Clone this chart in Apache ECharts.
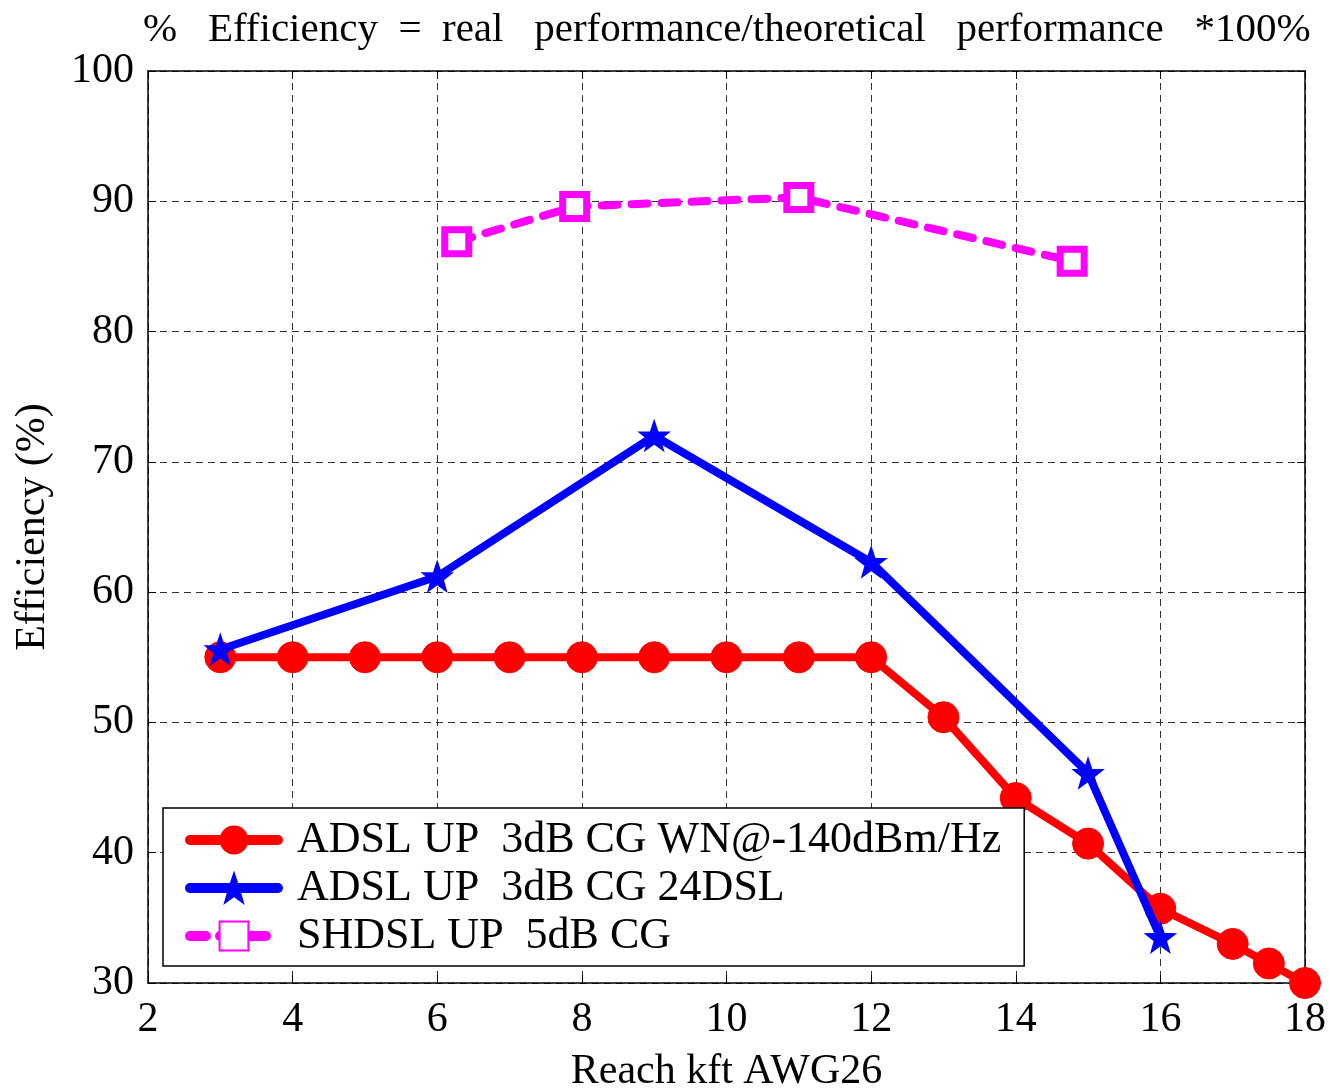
<!DOCTYPE html>
<html>
<head>
    <meta charset="utf-8">
    <title></title>
    <script src="https://cdn.jsdelivr.net/npm/echarts@6/dist/echarts.min.js"></script>
    <style>
        html, body { margin: 0; padding: 0; background: #fff; }
        #main { width: 1330px; height: 1090px; }
    </style>
</head>
<body>
    <div id="main"></div>
    <script>
    // data
    var adslWnX = [3, 4, 5, 6, 7, 8, 9, 10, 11, 12, 13, 14, 15, 16, 17, 17.5, 18];
    var adslWnY = [55, 55, 55, 55, 55, 55, 55, 55, 55, 55, 50.4, 44.2, 40.7, 35.7, 33, 31.5, 30];
    var adsl24X = [3, 6, 9, 12, 15, 16];
    var adsl24Y = [55.6, 61.2, 72, 62.3, 46.1, 33.5];
    var shdslX = [6.27, 7.9, 11, 14.78];
    var shdslY = [86.9, 89.6, 90.3, 85.4];
    var seriesNames = ["ADSL UP  3dB CG WN@-140dBm/Hz", "ADSL UP  3dB CG 24DSL", "SHDSL UP  5dB CG"];

    function pairs(xs, ys) {
        var out = [];
        for (var i = 0; i < xs.length; i++) out.push([xs[i], ys[i]]);
        return out;
    }

    var font = "'Liberation Serif', 'Times New Roman', serif";
    var star = "path://M0,-10 L2.35,-3.24 L9.51,-3.09 L3.8,1.24 L5.88,8.09 L0,4 L-5.88,8.09 L-3.8,1.24 L-9.51,-3.09 L-2.35,-3.24 Z";

    var gridLine = { show: true, lineStyle: { color: "#333", type: [7, 5], width: 1 } };
    var axisTxt = { color: "#000", fontFamily: font, fontSize: 42 };
    var nameTxt = { fontFamily: font, fontSize: 42, color: "#000" };

    var chart = echarts.init(document.getElementById("main"));
    chart.setOption({
        animation: false,
        backgroundColor: "#fff",
        title: {
            text: "%   Efficiency  =  real   performance/theoretical   performance   *100%",
            left: 138, top: 5,
            textStyle: { fontFamily: font, fontSize: 41, fontWeight: "normal", color: "#000" }
        },
        grid: { left: 148, right: 25, top: 71, bottom: 107, outerBoundsMode: "none", containLabel: false },
        legend: {
            orient: "vertical",
            left: 163, top: 808,
            padding: [10, 23, 8, 22],
            itemGap: 4,
            itemWidth: 88,
            itemHeight: 36,
            borderColor: "#000",
            borderWidth: 1.5,
            borderRadius: 0,
            backgroundColor: "#fff",
            lineStyle: { width: 10, cap: "round" },
            textStyle: { fontFamily: font, fontSize: 44, lineHeight: 42, color: "#000", padding: [0, 0, 0, 14] },
            data: seriesNames
        },
        xAxis: [{
            type: "value", min: 2, max: 18, interval: 2,
            name: "Reach kft AWG26", nameLocation: "middle", nameGap: 68,
            nameTextStyle: nameTxt,
            axisLine: { onZero: false, lineStyle: { color: "#000", width: 1.5 } },
            axisTick: { inside: true, length: 8, lineStyle: { color: "#000" } },
            axisLabel: Object.assign({ margin: 16 }, axisTxt),
            splitLine: gridLine
        }, {
            type: "value", min: 2, max: 18, interval: 2, position: "top",
            axisLine: { onZero: false, lineStyle: { color: "#000", width: 1.5 } },
            axisTick: { inside: true, length: 8, lineStyle: { color: "#000" } },
            axisLabel: { show: false }, splitLine: { show: false }
        }],
        yAxis: [{
            type: "value", min: 30, max: 100, interval: 10,
            name: "Efficiency (%)", nameLocation: "middle", nameGap: 94,
            nameTextStyle: nameTxt,
            axisLine: { show: true, onZero: false, lineStyle: { color: "#000", width: 1.5 } },
            axisTick: { show: true, inside: true, length: 8, lineStyle: { color: "#000" } },
            axisLabel: Object.assign({ margin: 14 }, axisTxt),
            splitLine: gridLine
        }, {
            type: "value", min: 30, max: 100, interval: 10, position: "right",
            axisLine: { show: true, onZero: false, lineStyle: { color: "#000", width: 1.5 } },
            axisTick: { show: true, inside: true, length: 8, lineStyle: { color: "#000" } },
            axisLabel: { show: false }, splitLine: { show: false }
        }],
        series: [{
            name: seriesNames[0], type: "line",
            data: pairs(adslWnX, adslWnY),
            symbol: "circle", symbolSize: 31,
            lineStyle: { color: "#ff0000", width: 8, cap: "round", join: "round" },
            itemStyle: { color: "#ff0000", borderColor: "#ff0000" },
            z: 3
        }, {
            name: seriesNames[1], type: "line",
            data: pairs(adsl24X, adsl24Y),
            symbol: star, symbolSize: 28,
            lineStyle: { color: "#0000ff", width: 8, cap: "round", join: "round" },
            itemStyle: { color: "#0000ff", borderColor: "#0000ff", borderWidth: 2 },
            z: 4
        }, {
            name: seriesNames[2], type: "line",
            data: pairs(shdslX, shdslY),
            symbol: "rect", symbolSize: 24,
            lineStyle: { color: "#ff00ff", width: 8, type: [16, 14], cap: "round" },
            itemStyle: { color: "#ffffff", borderColor: "#ff00ff", borderWidth: 7 },
            z: 3
        }]
    });
    </script>
</body>
</html>
